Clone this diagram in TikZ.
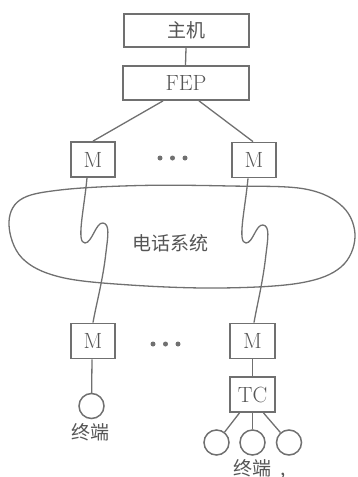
\documentclass[tikz,border=0pt]{standalone}
\usepackage{fontspec}
\newfontfamily\cjk{Noto Sans CJK SC}
\definecolor{ln}{HTML}{707070}
\definecolor{tx}{HTML}{555555}
\begin{document}
\begin{tikzpicture}[x=1pt,y=-1pt,
  box/.style={draw=ln,line width=1.8pt,inner sep=0pt,text=tx,font=\fontsize{22}{24}\selectfont},
  wire/.style={draw=ln,line width=1.3pt},
  term/.style={draw=ln,line width=1.5pt,circle,minimum size=25pt,inner sep=0pt},
  lbl/.style={text=tx,font=\cjk\fontsize{19}{21}\selectfont,inner sep=0pt},
  dot/.style={circle,fill=ln,minimum size=5pt,inner sep=0pt}]
\useasboundingbox (0,0) rectangle (357,477);
% cloud
\draw[wire] plot[smooth cycle,tension=0.6] coordinates {(60,190) (140,185.5) (230,186) (305,189) (343,207) (355,237) (341,267) (300,283) (220,288) (130,285) (60,277) (22,258) (9,225) (20,200)};
\node[lbl] (tel) at (170,243) {电话系统};
% boxes
\node[box,minimum width=125pt,minimum height=33pt] (host) at (186.5,30.5) {\cjk\fontsize{19}{21}\selectfont 主机};
\node[box,minimum width=126pt,minimum height=34pt] (fep) at (186,83) {FEP};
\node[box,minimum width=44pt,minimum height=35pt] (m1) at (93,159.5) {M};
\node[box,minimum width=44pt,minimum height=35pt] (m2) at (254,160) {M};
\node[box,minimum width=44pt,minimum height=35pt] (m3) at (93,341) {M};
\node[box,minimum width=45pt,minimum height=35pt] (m4) at (252.5,341) {M};
\node[box,minimum width=45pt,minimum height=35pt] (tc) at (252.5,394.5) {TC};
% dots
\node[dot] (d1) at (160,158) {};
\node[dot] (d2) at (172.5,158) {};
\node[dot] (d3) at (185,158) {};
\node[dot] (d4) at (153,344) {};
\node[dot] (d5) at (165.5,344) {};
\node[dot] (d6) at (178,344) {};
% terminals
\node[term] (t0) at (91.5,406) {};
\node[term] (t1) at (216.5,442.5) {};
\node[term] (t2) at (252.5,442.5) {};
\node[term] (t3) at (289,442.5) {};
\node[lbl] (l0) at (90,432) {终端};
\node[lbl] (l1) at (252.5,469) {终端\rlap{\hspace{9pt},}};
% connectors
\draw[wire] ([xshift=-0.5pt]host.south) -- ([xshift=-0.5pt]fep.north);
\draw[wire] ([xshift=-23pt]fep.south) -- (m1.north);
\draw[wire] ([xshift=13pt]fep.south) -- ([xshift=-1pt]m2.north);
\draw[wire] ([xshift=-6pt]m1.south) .. controls (84,210) and (76,243) .. (85,243)
  .. controls (92,243) and (96,222) .. (103,223)
  .. controls (110,224) and (108,236) .. (106,252)
  .. controls (103,280) and (96,305) .. (m3.north);
\draw[wire] ([xshift=-6pt]m2.south) .. controls (245,210) and (237,243) .. (246,243)
  .. controls (253,243) and (256,224) .. (263,225)
  .. controls (270,226) and (268,238) .. (266,254)
  .. controls (263,282) and (257,305) .. ([xshift=1.5pt]m4.north);
\draw[wire] ([xshift=-1pt]m3.south) -- (t0);
\draw[wire] (m4) -- (tc);
\draw[wire] ([xshift=-13pt]tc.south) -- (t1);
\draw[wire] (tc) -- (t2);
\draw[wire] ([xshift=11pt]tc.south) -- (t3);
\end{tikzpicture}
\end{document}
